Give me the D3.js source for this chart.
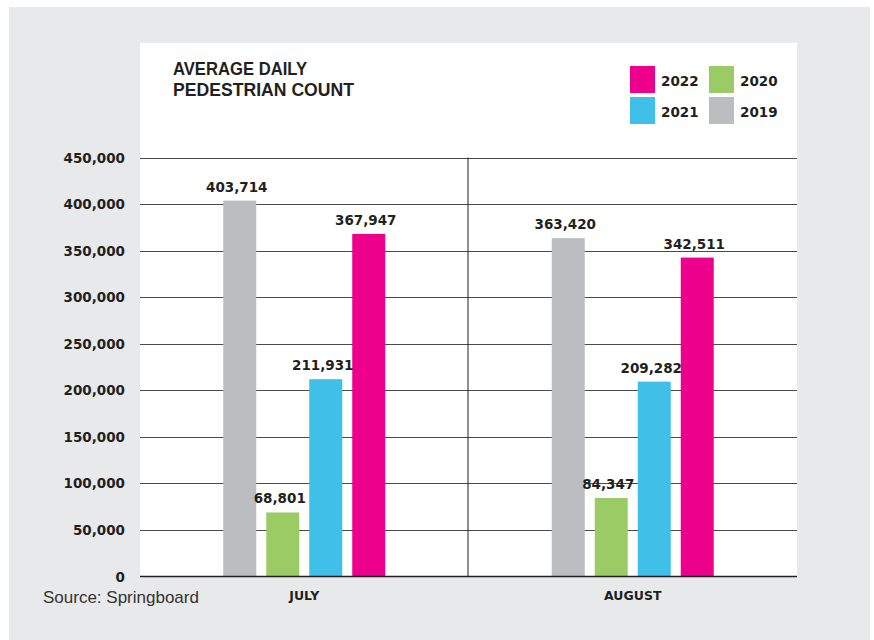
<!DOCTYPE html>
<html>
<head>
<meta charset="utf-8">
<script src="https://cdn.jsdelivr.net/npm/d3@7"></script>
<style>
  html, body { margin: 0; padding: 0; background: #fff; }
  svg { display: block; }
  .tick-label, .value-label, .legend-label, .cat-label { font-family: "DejaVu Sans", sans-serif; font-weight: bold; fill: #231f20; }
</style>
</head>
<body>
<div id="chart"></div>
<script>
var months  = ['JULY', 'AUGUST'],
    years   = ['2019', '2020', '2021', '2022'];

var values2019 = [403714, 363420],
    values2020 = [68801, 84347],
    values2021 = [211931, 209282],
    values2022 = [367947, 342511];

var yTicks = [0, 50000, 100000, 150000, 200000, 250000, 300000, 350000, 400000, 450000];

var colors = {
  '2019': '#bcbdc0',
  '2020': '#9bcb64',
  '2021': '#40bfe8',
  '2022': '#ec008c'
};

// legend order as in the picture: two columns
var legendItems = [
  { year: '2022', col: 0, row: 0 },
  { year: '2021', col: 0, row: 1 },
  { year: '2020', col: 1, row: 0 },
  { year: '2019', col: 1, row: 1 }
];

var series = { '2019': values2019, '2020': values2020, '2021': values2021, '2022': values2022 };

var width = 874, height = 640;

var svg = d3.select('#chart')
  .append('svg')
  .attr('width', width)
  .attr('height', height);

// backgrounds
svg.append('rect')
  .attr('x', 9).attr('y', 7)
  .attr('width', 861).attr('height', 633)
  .attr('fill', '#e8e9eb');

var plot = { left: 140, right: 797, top: 157.5, bottom: 576.5 };

svg.append('rect')
  .attr('x', plot.left).attr('y', 43)
  .attr('width', plot.right - plot.left).attr('height', plot.bottom - 43)
  .attr('fill', '#fff');

var x0 = d3.scaleBand()
  .domain(months)
  .range([plot.left, plot.right])
  .padding(0);

var x1 = d3.scaleBand()
  .domain(years)
  .range([0, 172])
  .paddingInner(0.2326)
  .paddingOuter(0.1163);

var y = d3.scaleLinear()
  .domain([0, 450000])
  .range([plot.bottom, plot.top]);

// grid lines
svg.append('g')
  .selectAll('line')
  .data(yTicks.slice(1))
  .enter().append('line')
  .attr('x1', plot.left)
  .attr('x2', plot.right)
  .attr('y1', function(d) { return Math.round(y(d)) + 0.5; })
  .attr('y2', function(d) { return Math.round(y(d)) + 0.5; })
  .attr('stroke', '#4a4a4a')
  .attr('stroke-width', 1);

// tick labels
svg.append('g')
  .selectAll('text')
  .data(yTicks)
  .enter().append('text')
  .attr('class', 'tick-label')
  .attr('x', 125)
  .attr('y', function(d) { return y(d) + 5; })
  .attr('text-anchor', 'end')
  .style('font-size', '13.5px')
  .text(function(d) { return d === 0 ? '0' : d3.format(',')(d); });

// divider between months
svg.append('line')
  .attr('x1', x0('AUGUST') - 0.5).attr('x2', x0('AUGUST') - 0.5)
  .attr('y1', plot.top).attr('y2', plot.bottom)
  .attr('stroke', '#231f20')
  .attr('stroke-width', 1);

// bars
var groups = svg.append('g')
  .selectAll('g')
  .data(months)
  .enter().append('g')
  .attr('transform', function(d) {
    return 'translate(' + (x0(d) + x0.bandwidth() / 2 - 86) + ',0)';
  });

groups.selectAll('rect')
  .data(function(m, i) { return years.map(function(yr) { return { year: yr, value: series[yr][i] }; }); })
  .enter().append('rect')
  .attr('x', function(d) { return x1(d.year); })
  .attr('y', function(d) { return y(d.value); })
  .attr('width', x1.bandwidth())
  .attr('height', function(d) { return plot.bottom - y(d.value); })
  .attr('fill', function(d) { return colors[d.year]; });

groups.selectAll('text')
  .data(function(m, i) { return years.map(function(yr) { return { year: yr, value: series[yr][i] }; }); })
  .enter().append('text')
  .attr('class', 'value-label')
  .attr('x', function(d) { return x1(d.year) + x1.bandwidth() / 2 - 3; })
  .attr('y', function(d) { return y(d.value) - 9; })
  .attr('text-anchor', 'middle')
  .style('font-size', '13.5px')
  .text(function(d) { return d3.format(',')(d.value); });

// baseline
svg.append('line')
  .attr('x1', plot.left).attr('x2', plot.right)
  .attr('y1', plot.bottom).attr('y2', plot.bottom)
  .attr('stroke', '#231f20')
  .attr('stroke-width', 1.5);

// category labels
svg.append('g')
  .selectAll('text')
  .data(months)
  .enter().append('text')
  .attr('class', 'cat-label')
  .attr('x', function(d) { return x0(d) + x0.bandwidth() / 2; })
  .attr('y', 600)
  .attr('text-anchor', 'middle')
  .style('font-size', '12.5px')
  .text(function(d) { return d; });

// title
var title = svg.append('text')
  .style('font-family', '"Liberation Sans", Arial, sans-serif')
  .style('font-weight', 'bold')
  .style('font-size', '18.5px')
  .attr('fill', '#231f20');
title.append('tspan').attr('x', 173).attr('y', 75)
  .attr('textLength', 134).attr('lengthAdjust', 'spacingAndGlyphs')
  .text('AVERAGE DAILY');
title.append('tspan').attr('x', 173).attr('y', 96)
  .attr('textLength', 181).attr('lengthAdjust', 'spacingAndGlyphs')
  .text('PEDESTRIAN COUNT');

// legend
var legend = svg.append('g')
  .selectAll('g')
  .data(legendItems)
  .enter().append('g')
  .attr('transform', function(d) {
    return 'translate(' + (630 + d.col * 79) + ',' + (66 + d.row * 31) + ')';
  });

legend.append('rect')
  .attr('width', 25)
  .attr('height', 27)
  .attr('fill', function(d) { return colors[d.year]; });

legend.append('text')
  .attr('class', 'legend-label')
  .attr('x', 31)
  .attr('y', 20)
  .style('font-size', '13.5px')
  .text(function(d) { return d.year; });

// source
svg.append('text')
  .attr('x', 43)
  .attr('y', 603)
  .style('font-family', '"Liberation Sans", Arial, sans-serif')
  .style('font-size', '17px')
  .attr('fill', '#333')
  .text('Source: Springboard');
</script>
</body>
</html>
